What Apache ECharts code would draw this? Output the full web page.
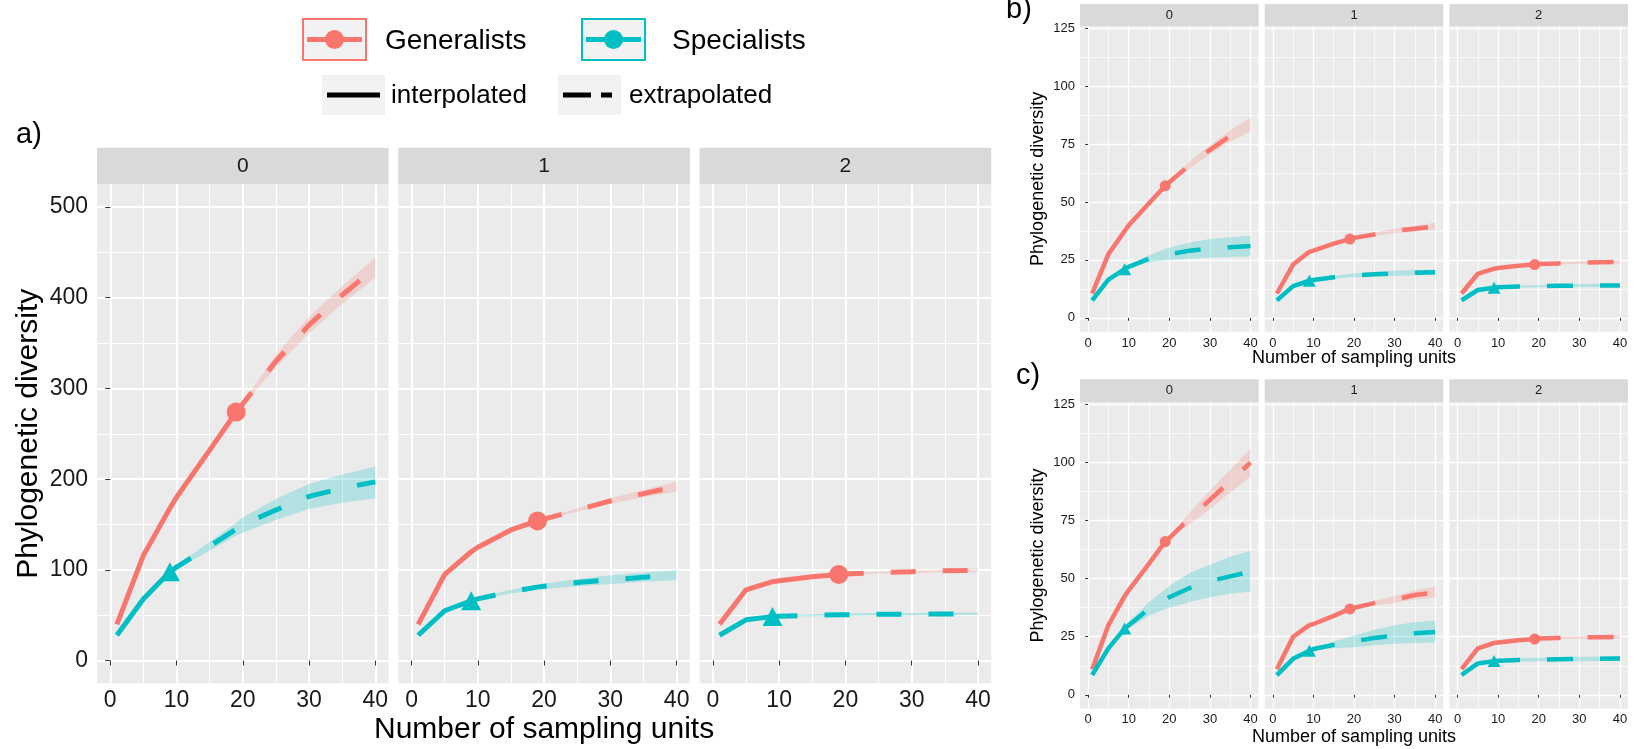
<!DOCTYPE html>
<html>
<head>
<meta charset="utf-8">
<title>Phylogenetic diversity curves</title>
<script src="https://cdn.jsdelivr.net/npm/echarts@6/dist/echarts.min.js"></script>
<style>
    html, body { margin: 0; padding: 0; background: #fff; }
    #main { width: 1634px; height: 749px; }
</style>
</head>
<body>
<div id="main"></div>
<script>
// ///////////////////////////////////////////
// data
var xUnits = [1, 5, 9, 10, 15, 19, 20, 25, 30, 35, 40];
var obsUnits = [19, 9];                       // reference sample: Generalists, Specialists
var groupNames = ['Generalists', 'Specialists'];
var lineTypeNames = ['interpolated', 'extrapolated'];
var facetLabels = ['0', '1', '2'];
var xTicks = [0, 10, 20, 30, 40];
var xMinor = [5, 15, 25, 35];
var yTicksA = [0, 100, 200, 300, 400, 500];
var yMinorA = [50, 150, 250, 350, 450];
var yTicksBC = [0, 25, 50, 75, 100, 125];
var yMinorBC = [12.5, 37.5, 62.5, 87.5, 112.5];

// panel a) -- rows are q = 0, 1, 2
var genA = [
    [40, 116, 168, 180, 232, 274, 283, 330, 370, 403, 433],
    [40, 95, 120, 125, 144, 154, 156, 166, 176, 184, 192],
    [40, 78, 87, 88, 92.5, 95, 95.5, 97, 98, 99, 99.5]
];
var genALo = [
    [40, 116, 168, 180, 232, 274, 281.5, 323, 361, 393, 422],
    [40, 95, 120, 125, 144, 154, 155.5, 164, 173, 180, 186.5],
    [40, 78, 87, 88, 92.5, 95, 95, 96, 96.5, 97.5, 97.5]
];
var genAHi = [
    [40, 116, 168, 180, 232, 274, 284.5, 337, 379, 413, 444],
    [40, 95, 120, 125, 144, 154, 156.5, 168, 179, 188, 197.5],
    [40, 78, 87, 88, 92.5, 95, 96, 98, 99.5, 100.5, 101.5]
];
var spcA = [
    [28, 68, 98, 103, 126, 145, 150, 166, 181, 190, 197],
    [28, 55, 66, 68, 76, 81, 82, 86, 89, 92, 94],
    [28, 45, 48.5, 49, 50, 50.5, 50.6, 51, 51.2, 51.4, 51.6]
];
var spcALo = [
    [28, 68, 98, 101, 121, 138, 141, 155, 167, 174, 179],
    [28, 55, 66, 67, 74, 78, 79, 82, 84.5, 87, 88.5],
    [28, 45, 48.5, 48.5, 49, 49.2, 49.3, 49.6, 49.8, 50, 50.2]
];
var spcAHi = [
    [28, 68, 98, 105, 131, 152, 158, 178, 195, 205, 214],
    [28, 55, 66, 69, 78, 84, 85, 90, 94, 97, 99.5],
    [28, 45, 48.5, 49.5, 51, 51.8, 52, 52.4, 52.6, 52.8, 53]
];

// panel b)
var genB = [
    [10.5, 27.5, 37.5, 40, 49.5, 57, 58.5, 66, 72.5, 78.5, 83.5],
    [10.5, 23, 28.5, 29, 32, 34, 34.5, 36, 37.5, 38.5, 39.5],
    [10.5, 19, 21.2, 21.5, 22.5, 23, 23.2, 23.5, 23.8, 24, 24.2]
];
var genBLo = [
    [10.5, 27.5, 37.5, 40, 49.5, 57, 58, 64.5, 70.5, 76, 80.5],
    [10.5, 23, 28.5, 29, 32, 34, 34.2, 35.3, 36.5, 37.3, 38],
    [10.5, 19, 21.2, 21.5, 22.5, 23, 23, 23.1, 23.2, 23.3, 23.4]
];
var genBHi = [
    [10.5, 27.5, 37.5, 40, 49.5, 57, 59, 67.5, 74.5, 81, 86.5],
    [10.5, 23, 28.5, 29, 32, 34, 34.8, 36.7, 38.5, 39.7, 41],
    [10.5, 19, 21.2, 21.5, 22.5, 23, 23.4, 23.9, 24.4, 24.7, 25]
];
var spcB = [
    [7.5, 16.5, 21, 22, 25.5, 27.2, 27.5, 29, 30, 30.5, 31],
    [7.5, 13.7, 16, 16.3, 17.5, 18.2, 18.3, 18.8, 19.2, 19.5, 19.7],
    [7.5, 12, 13, 13.2, 13.5, 13.6, 13.7, 13.8, 13.9, 14, 14]
];
var spcBLo = [
    [7.5, 16.5, 21, 21.5, 24, 24.8, 25, 25.5, 26, 26.3, 26.5],
    [7.5, 13.7, 16, 16, 17, 17.5, 17.5, 17.8, 18.1, 18.4, 18.6],
    [7.5, 12, 13, 13, 13.1, 13.1, 13.2, 13.2, 13.2, 13.3, 13.3]
];
var spcBHi = [
    [7.5, 16.5, 21, 22.5, 27, 29.7, 30.2, 32.5, 34, 34.8, 35.5],
    [7.5, 13.7, 16, 16.6, 18, 18.9, 19.1, 19.8, 20.3, 20.6, 20.8],
    [7.5, 12, 13, 13.4, 13.9, 14.1, 14.2, 14.4, 14.6, 14.7, 14.7]
];

// panel c)
var genC = [
    [11, 30, 42.5, 45, 56.5, 66, 67.5, 76, 84, 92, 100],
    [11, 25, 30, 30.5, 34, 37, 37.5, 39.5, 41, 43, 44],
    [11, 20, 22.3, 22.5, 23.5, 24, 24.2, 24.5, 24.7, 24.8, 25]
];
var genCLo = [
    [11, 30, 42.5, 45, 56.5, 66, 67, 73.5, 80, 87, 94],
    [11, 25, 30, 30.5, 34, 37, 37.2, 38.5, 39.5, 41, 42],
    [11, 20, 22.3, 22.5, 23.5, 24, 24, 24, 24.1, 24.1, 24.2]
];
var genCHi = [
    [11, 30, 42.5, 45, 56.5, 66, 68, 78.5, 88, 97, 106],
    [11, 25, 30, 30.5, 34, 37, 37.8, 40.5, 42.5, 45, 46.5],
    [11, 20, 22.3, 22.5, 23.5, 24, 24.4, 25, 25.3, 25.5, 25.8]
];
var spcC = [
    [8.5, 20, 28.5, 30, 37, 41, 42, 46, 49, 51, 53],
    [8.5, 15.5, 19, 19.7, 21.5, 22.7, 23, 24.5, 25.5, 26.5, 27],
    [8.5, 13.5, 14.5, 14.7, 15, 15.1, 15.2, 15.3, 15.4, 15.5, 15.6]
];
var spcCLo = [
    [8.5, 20, 28.5, 28.5, 34, 37, 37.5, 40, 42, 43.5, 44.5],
    [8.5, 15.5, 19, 19.2, 20, 20.4, 20.5, 21.3, 22, 22.3, 22.5],
    [8.5, 13.5, 14.5, 14.3, 14.3, 14.3, 14.4, 14.4, 14.4, 14.5, 14.5]
];
var spcCHi = [
    [8.5, 20, 28.5, 31.5, 40, 45.5, 47, 52.5, 56, 59.5, 62],
    [8.5, 15.5, 19, 20.2, 23, 25, 25.5, 28, 30, 31.2, 32],
    [8.5, 13.5, 14.5, 15.1, 15.7, 15.9, 16, 16.2, 16.4, 16.5, 16.7]
];


// ///////////////////////////////////////////
// styles & layout
var FONT = "'Liberation Sans', Arial, sans-serif";
var TEXT = '#1A1A1A';
var colors = ['#F8766D', '#00BFC4'];
var bandColors = ['rgba(248,118,109,0.22)', 'rgba(0,191,196,0.24)'];

var panels = [
    {tag: 'a)', tagX: 16, tagY: 135, tagFont: 29,
     left: 97, top: 184.3, width: 291.6, height: 499, step: 301.3, stripH: 36.6, stripFont: 21,
     yMin: -25, yMax: 525, yTicks: yTicksA, yMinor: yMinorA,
     mean: [genA, spcA], lo: [genALo, spcALo], hi: [genAHi, spcAHi],
     tickFont: 23, titleFont: 30, tickLen: 5, yLabelGap: 9, xLabelGap: 6, yNameGap: 53, xNameGap: 31,
     majorW: 2, minorW: 1, lineW: 5, dash: [25, 27], dotSize: 19, triSize: [20, 19]},
    {tag: 'b)', tagX: 1006, tagY: 10, tagFont: 29,
     left: 1080, top: 26, width: 178.6, height: 305.7, step: 184.7, stripH: 22, stripFont: 13,
     yMin: -6, yMax: 126, yTicks: yTicksBC, yMinor: yMinorBC,
     mean: [genB, spcB], lo: [genBLo, spcBLo], hi: [genBHi, spcBHi],
     tickFont: 13, titleFont: 18, tickLen: 3, yLabelGap: 5, xLabelGap: 5, yNameGap: 33, xNameGap: 17.5,
     majorW: 1.3, minorW: 0.7, lineW: 4.5, dash: [26, 27], dotSize: 11, triSize: [13, 12]},
    {tag: 'c)', tagX: 1016, tagY: 376, tagFont: 29,
     left: 1080, top: 402.3, width: 178.6, height: 306.4, step: 184.7, stripH: 23, stripFont: 13,
     yMin: -6, yMax: 126, yTicks: yTicksBC, yMinor: yMinorBC,
     mean: [genC, spcC], lo: [genCLo, spcCLo], hi: [genCHi, spcCHi],
     tickFont: 13, titleFont: 18, tickLen: 3, yLabelGap: 5, xLabelGap: 4.5, yNameGap: 33, xNameGap: 19.3,
     majorW: 1.3, minorW: 0.7, lineW: 4.5, dash: [26, 27], dotSize: 11, triSize: [13, 12]}
];


// ///////////////////////////////////////////
// ribbon: one polygon through all rows of the series
function ribbonItem(color) {
    return function (params, api) {
        if (params.dataIndexInside !== 0) {
            return null;
        }
        var upper = [];
        var lower = [];
        for (var i = 0; i < params.dataInsideLength; i++) {
            upper.push(api.coord([api.value(0, i), api.value(2, i)]));
            lower.unshift(api.coord([api.value(0, i), api.value(1, i)]));
        }
        return {
            type: 'polygon',
            shape: {points: upper.concat(lower)},
            style: {fill: color}
        };
    };
}

var grids = [];
var xAxes = [];
var yAxes = [];
var series = [];
var graphics = [];

panels.forEach(function (p, pi) {
    graphics.push({
        type: 'text', silent: true,
        style: {text: p.tag, x: p.tagX, y: p.tagY, verticalAlign: 'middle',
                font: p.tagFont + 'px ' + FONT, fill: '#000'}
    });

    for (var f = 0; f < 3; f++) {
        var g = pi * 3 + f;
        var left = p.left + f * p.step;

        grids.push({
            left: left, top: p.top, width: p.width, height: p.height,
            show: true, backgroundColor: '#EBEBEB', borderWidth: 0,
            containLabel: false, outerBoundsMode: 'none'
        });

        // facet strip
        graphics.push({
            type: 'rect', silent: true,
            shape: {x: left, y: p.top - p.stripH, width: p.width, height: p.stripH},
            style: {fill: '#D9D9D9'}
        });
        graphics.push({
            type: 'text', silent: true,
            style: {text: facetLabels[f], x: left + p.width / 2, y: p.top - p.stripH / 2,
                    align: 'center', verticalAlign: 'middle',
                    font: p.stripFont + 'px ' + FONT, fill: TEXT}
        });

        // major x
        xAxes.push({
            type: 'value', gridIndex: g, min: -2, max: 42, position: 'bottom',
            axisLine: {show: false},
            axisTick: {show: true, length: p.tickLen, customValues: xTicks,
                       lineStyle: {color: '#333333', width: 1}},
            axisLabel: {show: true, customValues: xTicks, margin: p.xLabelGap,
                        fontSize: p.tickFont, fontFamily: FONT, color: TEXT},
            splitLine: {show: true, lineStyle: {color: '#FFFFFF', width: p.majorW}},
            name: f === 1 ? 'Number of sampling units' : '',
            nameLocation: 'middle', nameGap: p.xNameGap, nameMoveOverlap: false,
            nameTextStyle: {fontSize: p.titleFont, fontFamily: FONT, color: '#000'}
        });
        // minor x
        xAxes.push({
            type: 'value', gridIndex: g, min: -2, max: 42, position: 'top',
            axisLine: {show: false},
            axisTick: {show: false, customValues: xMinor},
            axisLabel: {show: false, customValues: xMinor},
            splitLine: {show: true, lineStyle: {color: '#FFFFFF', width: p.minorW}}
        });
        // major y
        yAxes.push({
            type: 'value', gridIndex: g, min: p.yMin, max: p.yMax, position: 'left',
            axisLine: {show: false},
            axisTick: {show: f === 0, length: p.tickLen, customValues: p.yTicks,
                       lineStyle: {color: '#333333', width: 1}},
            axisLabel: {show: f === 0, customValues: p.yTicks, margin: p.yLabelGap,
                        fontSize: p.tickFont, fontFamily: FONT, color: TEXT},
            splitLine: {show: true, lineStyle: {color: '#FFFFFF', width: p.majorW}},
            name: f === 0 ? 'Phylogenetic diversity' : '',
            nameLocation: 'middle', nameRotate: 90, nameGap: p.yNameGap, nameMoveOverlap: false,
            nameTextStyle: {fontSize: p.titleFont, fontFamily: FONT, color: '#000'}
        });
        // minor y
        yAxes.push({
            type: 'value', gridIndex: g, min: p.yMin, max: p.yMax, position: 'right',
            axisLine: {show: false},
            axisTick: {show: false, customValues: p.yMinor},
            axisLabel: {show: false, customValues: p.yMinor},
            splitLine: {show: true, lineStyle: {color: '#FFFFFF', width: p.minorW}}
        });

        for (var k = 0; k < 2; k++) {
            var mean = p.mean[k][f];
            var lo = p.lo[k][f];
            var hi = p.hi[k][f];
            var obs = obsUnits[k];
            var solid = [];
            var dashed = [];
            var band = [];
            xUnits.forEach(function (x, i) {
                band.push([x, lo[i], hi[i]]);
                if (x <= obs) {
                    solid.push([x, mean[i]]);
                }
                if (x >= obs) {
                    dashed.push([x, mean[i]]);
                }
            });

            series.push({
                type: 'custom', name: groupNames[k], xAxisIndex: 2 * g, yAxisIndex: 2 * g,
                silent: true, z: 1, data: band, encode: {x: 0, y: [1, 2]},
                renderItem: ribbonItem(bandColors[k])
            });
            series.push({
                type: 'line', name: groupNames[k] + ' ' + lineTypeNames[0],
                xAxisIndex: 2 * g, yAxisIndex: 2 * g, silent: true, z: 3,
                data: solid, symbol: 'none',
                lineStyle: {color: colors[k], width: p.lineW, join: 'round'}
            });
            series.push({
                type: 'line', name: groupNames[k] + ' ' + lineTypeNames[1],
                xAxisIndex: 2 * g, yAxisIndex: 2 * g, silent: true, z: 3,
                data: dashed, symbol: 'none',
                lineStyle: {color: colors[k], width: p.lineW, type: p.dash, join: 'round'}
            });
            series.push({
                type: 'scatter', name: groupNames[k], xAxisIndex: 2 * g, yAxisIndex: 2 * g,
                silent: true, z: 4,
                data: [[obs, mean[xUnits.indexOf(obs)]]],
                symbol: k === 0 ? 'circle' : 'triangle',
                symbolSize: k === 0 ? p.dotSize : p.triSize,
                itemStyle: {color: colors[k], opacity: 1}
            });
        }
    }
});


// ///////////////////////////////////////////
// legend (drawn like the ggplot guide boxes)
var groupKeyX = [303, 582];
var groupTextX = [385, 672];
groupNames.forEach(function (name, k) {
    var bx = groupKeyX[k];
    graphics.push({type: 'rect', silent: true,
        shape: {x: bx, y: 19, width: 63, height: 41},
        style: {fill: '#F2F2F2', stroke: colors[k], lineWidth: 2}});
    graphics.push({type: 'line', silent: true,
        shape: {x1: bx + 4, y1: 39.5, x2: bx + 59, y2: 39.5},
        style: {stroke: colors[k], lineWidth: 5}});
    graphics.push({type: 'circle', silent: true,
        shape: {cx: bx + 31.5, cy: 39.5, r: 9.5},
        style: {fill: colors[k]}});
    graphics.push({type: 'text', silent: true,
        style: {text: name, x: groupTextX[k], y: 41, verticalAlign: 'middle',
                font: '28px ' + FONT, fill: '#000'}});
});

var typeKeyX = [322, 558];
var typeTextX = [391, 629];
lineTypeNames.forEach(function (name, k) {
    var bx = typeKeyX[k];
    graphics.push({type: 'rect', silent: true,
        shape: {x: bx, y: 75, width: 63, height: 40},
        style: {fill: '#F2F2F2'}});
    graphics.push({type: 'line', silent: true,
        shape: {x1: bx + 5, y1: 95, x2: k === 0 ? bx + 58 : bx + 54, y2: 95},
        style: {stroke: '#000', lineWidth: 5, lineDash: k === 0 ? null : [28, 10]}});
    graphics.push({type: 'text', silent: true,
        style: {text: name, x: typeTextX[k], y: 96, verticalAlign: 'middle',
                font: '26px ' + FONT, fill: '#000'}});
});


// ///////////////////////////////////////////
// chart
var chart = echarts.init(document.getElementById('main'));
chart.setOption({
    animation: false,
    backgroundColor: '#FFFFFF',
    grid: grids,
    xAxis: xAxes,
    yAxis: yAxes,
    series: series,
    graphic: graphics
});
</script>
</body>
</html>
